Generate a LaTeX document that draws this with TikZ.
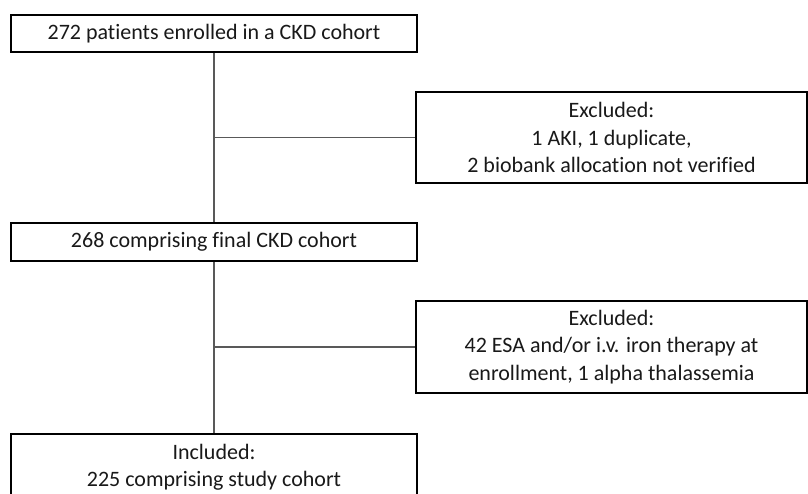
\documentclass[tikz,border=0pt]{standalone}
\usepackage{fontspec}
\setmainfont[RawFeature=-liga]{Carlito}
\begin{document}
\begin{tikzpicture}[x=1pt,y=-1pt,
  box/.style={draw=black, line width=2pt, inner sep=0pt, align=center,
    font=\fontsize{22}{27.5}\selectfont, text=black!90},
  conn/.style={draw=black!65, line width=1.1pt}]
\clip (0,0) rectangle (808,493);
\fill[white] (0,0) rectangle (808,493);
\node[box, minimum width=406, minimum height=37] (b1) at (214,33.5) {272 patients enrolled in a CKD cohort};
\node[box, minimum width=391, minimum height=91] (e1) at (611.5,137.5) {Excluded:\\1 AKI, 1 duplicate,\\2 biobank allocation not verified};
\node[box, minimum width=406, minimum height=38] (b2) at (214,242) {268 comprising final CKD cohort};
\node[box, minimum width=391, minimum height=92] (e2) at (611.5,347) {Excluded:\\42 ESA and/or i.v. iron therapy at\\enrollment, 1 alpha thalassemia};
\node[box, minimum width=406, minimum height=66] (b3) at (214,467) {Included:\\225 comprising study cohort};
\coordinate (j1) at (214,137.5);
\coordinate (j2) at (214,347);
\draw[conn] (b1.south) -- (b2.north);
\draw[conn] (b2.south) -- (b3.north);
\draw[conn] (j1) -- (e1.west);
\draw[conn] (j2) -- (e2.west);
\end{tikzpicture}
\end{document}
